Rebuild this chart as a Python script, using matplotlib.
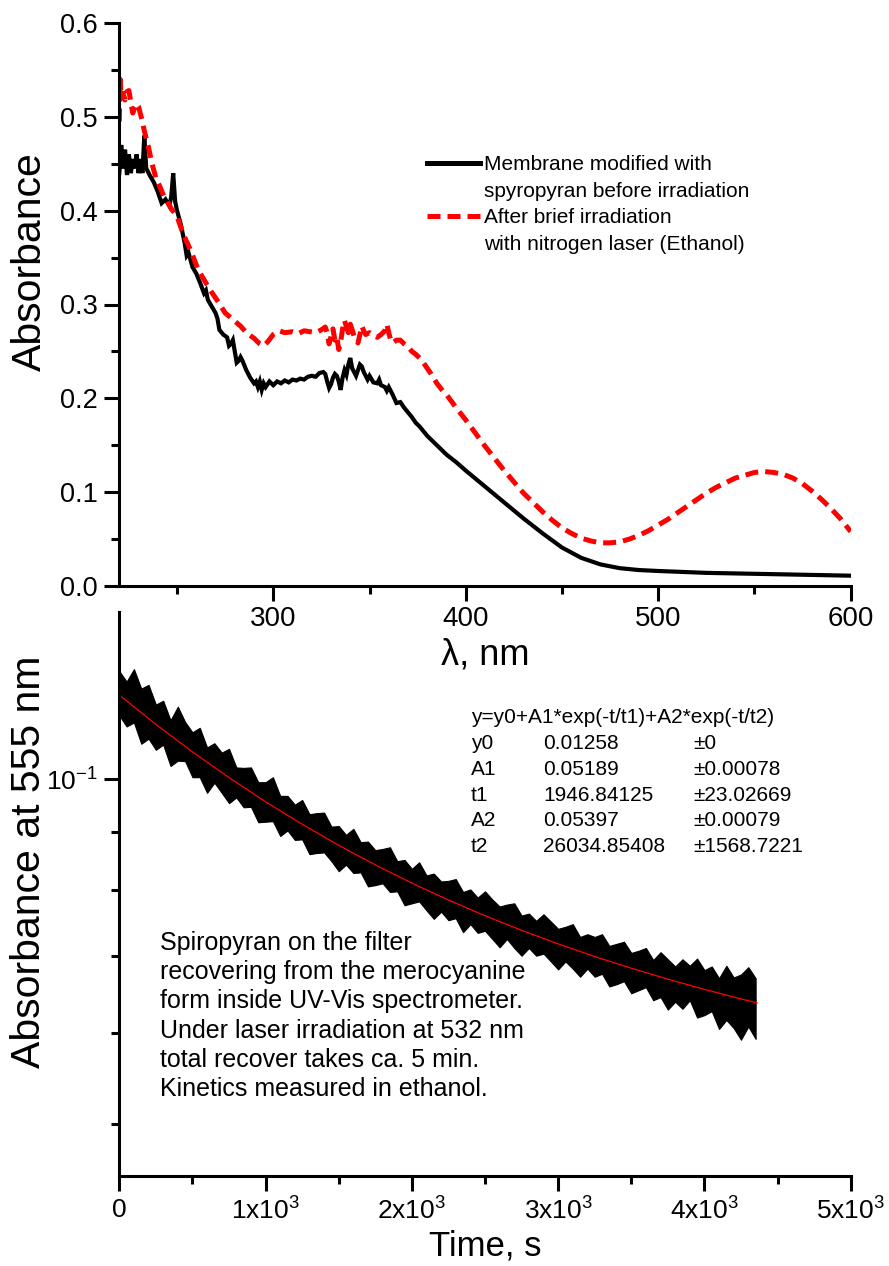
import numpy as np
import matplotlib
matplotlib.use('Agg')
import matplotlib.pyplot as plt
from matplotlib.ticker import MultipleLocator, FuncFormatter, NullFormatter, LogLocator
from matplotlib.lines import Line2D

plt.rcParams['font.family'] = ['Liberation Sans', 'DejaVu Sans']
plt.rcParams['mathtext.fontset'] = 'custom'
plt.rcParams['mathtext.rm'] = 'Liberation Sans'
plt.rcParams['mathtext.it'] = 'Liberation Sans'
plt.rcParams['mathtext.bf'] = 'Liberation Sans'
plt.rcParams['mathtext.default'] = 'regular'
plt.rcParams['axes.unicode_minus'] = False

# --- top panel: spectra (wavelength nm, absorbance)
before_nm = [220, 221, 222, 223, 224, 225, 226, 227, 228, 229, 230, 231, 232, 233, 234, 236,
             238, 240, 242, 244, 246, 247, 248, 249, 250, 252, 254, 255, 256, 258, 260, 262,
             264, 265, 266, 268, 270, 271, 272, 274, 276, 277, 278, 279, 280, 281, 282, 283,
             284, 286, 288, 290, 291, 292, 293, 294, 295, 296, 298, 300, 302, 304, 306, 308,
             310, 312, 314, 316, 318, 320, 322, 324, 326, 327, 328, 329, 330, 331, 332, 333,
             334, 335, 336, 337, 338, 339, 340, 341, 342, 343, 344, 345, 346, 347, 348, 349,
             350, 352, 354, 355, 356, 358, 359, 360, 362, 364, 366, 368, 370, 372, 374, 376,
             378, 380, 385, 390, 395, 400, 410, 420, 430, 440, 450, 460, 470, 480, 490, 500,
             525, 550, 575, 600]
before_abs = [0.440, 0.470, 0.445, 0.465, 0.438, 0.460, 0.440, 0.455, 0.445, 0.460, 0.440, 0.455,
              0.440, 0.480, 0.445, 0.437, 0.430, 0.420, 0.408, 0.412, 0.405, 0.415, 0.440, 0.410,
              0.400, 0.385, 0.365, 0.352, 0.355, 0.340, 0.333, 0.323, 0.312, 0.315, 0.305, 0.298,
              0.291, 0.285, 0.273, 0.268, 0.265, 0.256, 0.258, 0.262, 0.250, 0.238, 0.240, 0.244,
              0.240, 0.230, 0.222, 0.216, 0.218, 0.212, 0.218, 0.209, 0.216, 0.212, 0.218, 0.214,
              0.218, 0.216, 0.219, 0.217, 0.220, 0.219, 0.221, 0.220, 0.223, 0.224, 0.223, 0.227,
              0.228, 0.226, 0.218, 0.211, 0.215, 0.222, 0.226, 0.224, 0.218, 0.209, 0.222, 0.230,
              0.225, 0.236, 0.243, 0.232, 0.228, 0.224, 0.230, 0.236, 0.234, 0.228, 0.224, 0.220,
              0.224, 0.217, 0.216, 0.220, 0.214, 0.212, 0.208, 0.212, 0.204, 0.195, 0.196, 0.190,
              0.185, 0.180, 0.174, 0.170, 0.165, 0.160, 0.150, 0.140, 0.132, 0.123, 0.106, 0.089,
              0.072, 0.056, 0.041, 0.030, 0.023, 0.019, 0.017, 0.016, 0.014, 0.013, 0.012, 0.011]

after_nm = [220, 220.5, 221, 222, 223, 224, 225, 226, 227, 228, 229, 230, 231, 232, 233, 235,
            237, 239, 241, 243, 245, 247, 250, 253, 257, 261, 265, 268, 271, 275, 279, 283,
            286, 290, 293, 295, 297, 300, 303, 306, 310, 313, 316, 319, 322, 325, 327, 328,
            329, 330, 331, 332, 333, 334, 335, 336, 337, 338, 339, 340, 341, 342, 343, 344,
            345, 346, 347, 348, 350, 352, 354, 356, 358, 359, 360, 361, 362, 364, 366, 368,
            370, 372, 374, 376, 378, 380, 382, 385, 388, 390, 395, 400, 405, 410, 415, 420,
            425, 430, 435, 440, 445, 450, 455, 460, 465, 470, 475, 480, 485, 490, 495, 500,
            505, 510, 515, 520, 525, 530, 535, 540, 545, 550, 555, 560, 565, 570, 575, 580,
            585, 590, 595, 600]
after_abs = [0.495, 0.540, 0.520, 0.525, 0.518, 0.527, 0.528, 0.515, 0.504, 0.510, 0.514, 0.511,
             0.503, 0.495, 0.485, 0.469, 0.450, 0.435, 0.426, 0.416, 0.410, 0.402, 0.394, 0.376,
             0.358, 0.337, 0.323, 0.313, 0.304, 0.291, 0.284, 0.277, 0.270, 0.264, 0.258, 0.256,
             0.260, 0.268, 0.272, 0.270, 0.271, 0.269, 0.272, 0.271, 0.270, 0.273, 0.276, 0.270,
             0.258, 0.266, 0.274, 0.262, 0.266, 0.252, 0.260, 0.274, 0.283, 0.276, 0.270, 0.279,
             0.273, 0.266, 0.262, 0.259, 0.268, 0.277, 0.272, 0.268, 0.270, 0.267, 0.265, 0.268,
             0.272, 0.279, 0.270, 0.262, 0.259, 0.262, 0.262, 0.258, 0.255, 0.250, 0.247, 0.243,
             0.238, 0.232, 0.226, 0.216, 0.208, 0.204, 0.190, 0.177, 0.163, 0.149, 0.136, 0.123,
             0.111, 0.099, 0.089, 0.079, 0.070, 0.062, 0.056, 0.051, 0.048, 0.046, 0.046, 0.047,
             0.050, 0.054, 0.059, 0.065, 0.071, 0.078, 0.085, 0.092, 0.099, 0.105, 0.110, 0.115,
             0.118, 0.121, 0.122, 0.121, 0.119, 0.115, 0.109, 0.101, 0.092, 0.082, 0.071, 0.058]

legend_labels = ['Membrane modified with', 'spyropyran before irradiation',
                 'After brief irradiation', 'with nitrogen laser (Ethanol)']

# --- bottom panel: kinetics at 555 nm (time s, absorbance)
band_t = list(range(0, 4400, 50))
band_hi = [0.1243, 0.1217, 0.1248, 0.1200, 0.1209, 0.1162, 0.1171, 0.1126, 0.1157, 0.1122,
           0.1099, 0.1109, 0.1066, 0.1075, 0.1055, 0.1063, 0.1024, 0.1023, 0.1024, 0.0994,
           0.0994, 0.1004, 0.0967, 0.0967, 0.0950, 0.0959, 0.0932, 0.0934, 0.0935, 0.0909,
           0.0910, 0.0894, 0.0905, 0.0881, 0.0882, 0.0867, 0.0869, 0.0872, 0.0848, 0.0850,
           0.0835, 0.0846, 0.0824, 0.0827, 0.0814, 0.0815, 0.0818, 0.0797, 0.0801, 0.0788,
           0.0798, 0.0785, 0.0774, 0.0777, 0.0779, 0.0760, 0.0763, 0.0752, 0.0762, 0.0751,
           0.0740, 0.0743, 0.0747, 0.0728, 0.0732, 0.0728, 0.0732, 0.0715, 0.0718, 0.0721,
           0.0705, 0.0708, 0.0712, 0.0695, 0.0706, 0.0696, 0.0686, 0.0696, 0.0687, 0.0697,
           0.0681, 0.0686, 0.0670, 0.0687, 0.0671, 0.0675, 0.0685, 0.0670]
band_lo = [0.1137, 0.1112, 0.1121, 0.1074, 0.1085, 0.1061, 0.1072, 0.1027, 0.1038, 0.1037,
           0.1004, 0.1004, 0.0973, 0.0993, 0.0973, 0.0953, 0.0964, 0.0945, 0.0946, 0.0917,
           0.0918, 0.0919, 0.0892, 0.0902, 0.0885, 0.0886, 0.0860, 0.0862, 0.0863, 0.0848,
           0.0831, 0.0842, 0.0828, 0.0829, 0.0806, 0.0808, 0.0811, 0.0797, 0.0798, 0.0776,
           0.0779, 0.0782, 0.0768, 0.0755, 0.0766, 0.0753, 0.0756, 0.0735, 0.0747, 0.0734,
           0.0737, 0.0725, 0.0713, 0.0725, 0.0712, 0.0701, 0.0712, 0.0701, 0.0704, 0.0693,
           0.0682, 0.0693, 0.0683, 0.0672, 0.0683, 0.0672, 0.0676, 0.0659, 0.0662, 0.0666,
           0.0650, 0.0654, 0.0658, 0.0641, 0.0645, 0.0629, 0.0639, 0.0630, 0.0641, 0.0619,
           0.0622, 0.0627, 0.0605, 0.0616, 0.0606, 0.0592, 0.0608, 0.0593]

fit_t = [0, 250, 500, 750, 1000, 1250, 1500, 1750, 2000, 2250, 2500, 2750, 3000, 3250,
         3500, 3750, 4000, 4250, 4360]
fit_abs = [0.11844, 0.11167, 0.10566, 0.10032, 0.09556, 0.09133, 0.08754, 0.08416, 0.08113,
           0.07842, 0.07598, 0.07378, 0.07179, 0.06999, 0.06836, 0.06687, 0.06551, 0.06427,
           0.06375]

fit_rows = [('y0', '0.01258', '\u00b10'),
            ('A1', '0.05189', '\u00b10.00078'),
            ('t1', '1946.84125', '\u00b123.02669'),
            ('A2', '0.05397', '\u00b10.00079'),
            ('t2', '26034.85408', '\u00b11568.7221')]
note_lines = ['Spiropyran on the filter',
              'recovering from the merocyanine',
              'form inside UV-Vis spectrometer.',
              'Under laser irradiation at 532 nm',
              'total recover takes ca. 5 min.',
              'Kinetics measured in ethanol.']

W, H = 889, 1266
fig = plt.figure(figsize=(W / 100, H / 100), dpi=100)

def px_rect(left, top, right, bottom):
    return [left / W, 1 - bottom / H, (right - left) / W, (bottom - top) / H]

def style_axes(ax):
    for s in ['top', 'right']:
        ax.spines[s].set_visible(False)
    for s in ['left', 'bottom']:
        ax.spines[s].set_linewidth(2.2)
    ax.tick_params(which='major', direction='out', length=10.5, width=2.2)
    ax.tick_params(which='minor', direction='out', length=5.5, width=2.2)

# bottom panel first, so the top panel's tick labels sit above it
ax2 = fig.add_axes(px_rect(119.3, 612, 850.7, 1176))
ax2.patch.set_visible(False)
style_axes(ax2)
ax2.fill_between(band_t, band_lo, band_hi, color='black', lw=0.8)
ax2.plot(fit_t, fit_abs, color='red', lw=0.9)
ax2.set_yscale('log')
ax2.set_xlim(0, 5000)
ax2.set_ylim(0.045, 0.14)
ax2.xaxis.set_major_locator(MultipleLocator(1000))
ax2.xaxis.set_minor_locator(MultipleLocator(500))

def time_fmt(v, p):
    if v == 0:
        return '0'
    return r'%dx10$^{3}$' % round(v / 1000)

ax2.xaxis.set_major_formatter(FuncFormatter(time_fmt))
ax2.yaxis.set_major_locator(LogLocator(base=10))
ax2.yaxis.set_minor_locator(LogLocator(base=10, subs=np.arange(2, 10)))
ax2.yaxis.set_major_formatter(FuncFormatter(lambda v, p: r'10$^{%d}$' % round(np.log10(v))))
ax2.yaxis.set_minor_formatter(NullFormatter())
ax2.tick_params(axis='x', labelsize=19, pad=5)
ax2.tick_params(axis='y', labelsize=19, pad=5)

fig.text(29 / W, 1 - 862 / H, 'Absorbance at 555 nm', rotation=90, ha='center', va='center',
         fontsize=29.5)
fig.text(485 / W, 1 - 1246 / H, 'Time, s', ha='center', va='center', fontsize=25)

# fit parameters table
ax2.text(0.4807, 0.8138, 'y=y0+A1*exp(-t/t1)+A2*exp(-t/t2)', transform=ax2.transAxes,
         fontsize=15, va='center', ha='left')
row_y = [0.7677, 0.7216, 0.6755, 0.6312, 0.5851]
for (name, val, err), yy in zip(fit_rows, row_y):
    ax2.text(0.4807, yy, name, transform=ax2.transAxes, fontsize=15, va='center')
    ax2.text(0.5797, yy, val, transform=ax2.transAxes, fontsize=15, va='center')
    ax2.text(0.7848, yy, err, transform=ax2.transAxes, fontsize=15, va='center')

ax2.text(0.0556, 0.435, '\n'.join(note_lines), transform=ax2.transAxes, fontsize=18,
         va='top', ha='left', linespacing=1.28)

# top panel
ax1 = fig.add_axes(px_rect(119.3, 23, 850.7, 586))
ax1.patch.set_visible(False)
style_axes(ax1)
ax1.plot(before_nm, before_abs, color='black', lw=3.0, solid_joinstyle='miter')
ax1.plot(after_nm, after_abs, color='red', lw=3.6, dashes=(2.6, 1.4))
ax1.set_xlim(220, 600)
ax1.set_ylim(0, 0.6)
ax1.xaxis.set_major_locator(MultipleLocator(100))
ax1.xaxis.set_minor_locator(MultipleLocator(50))
ax1.yaxis.set_major_locator(MultipleLocator(0.1))
ax1.yaxis.set_minor_locator(MultipleLocator(0.05))
ax1.yaxis.set_major_formatter(FuncFormatter(lambda v, p: '%.1f' % v))
ax1.tick_params(axis='x', labelsize=20, pad=4)
ax1.tick_params(axis='y', labelsize=19.5, pad=5)

handles = [Line2D([], [], color='black', lw=3.6),
           Line2D([], [], color='none'),
           Line2D([], [], color='red', lw=3.6, dashes=(2.6, 1.4)),
           Line2D([], [], color='none')]
ax1.legend(handles, legend_labels, loc='upper left', bbox_to_anchor=(0.4203, 0.7655),
           frameon=False, fontsize=15, handlelength=2.55, handletextpad=0.2,
           labelspacing=0.37, borderpad=0, borderaxespad=0)

fig.text(30 / W, 1 - 262 / H, 'Absorbance', rotation=90, ha='center', va='center',
         fontsize=29.5)
fig.text(485 / W, 1 - 655 / H, '\u03bb, nm', ha='center', va='center', fontsize=26)

fig.savefig('out.png', dpi=100)
